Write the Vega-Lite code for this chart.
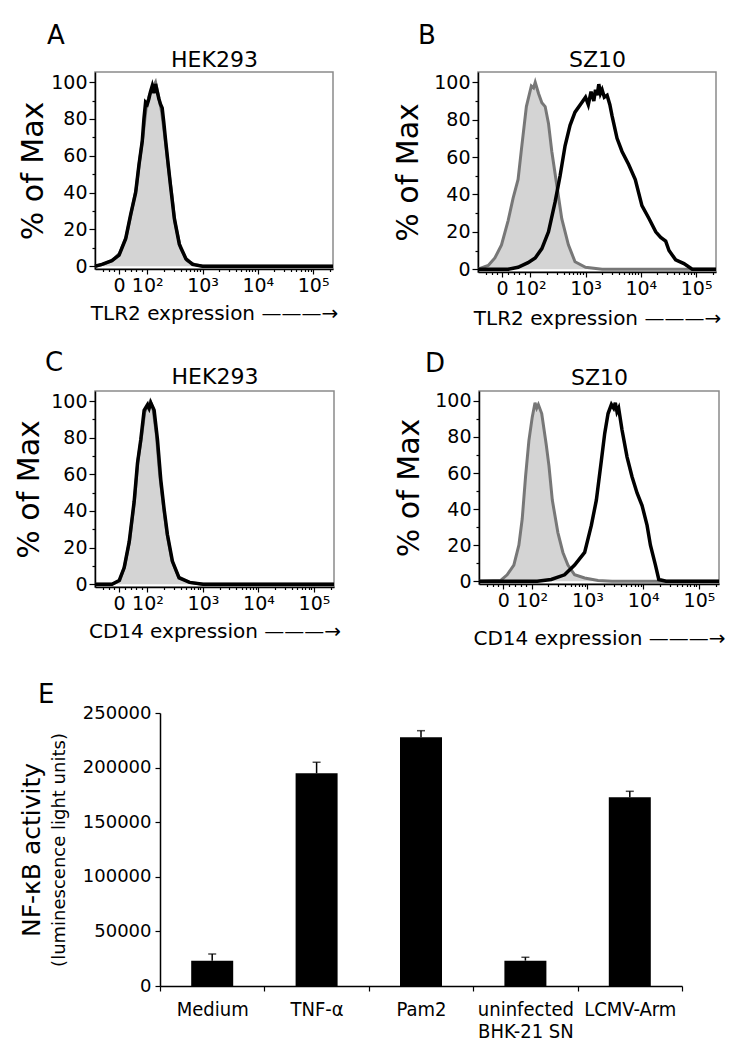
{
  "$schema": "https://vega.github.io/schema/vega-lite/v6.json",
  "padding": {"left": 13, "top": 22, "right": 5, "bottom": 5},
  "background": "white",
  "config": {
    "font": "DejaVu Sans",
    "view": {"stroke": "#8a8a8a", "strokeWidth": 1.5},
    "axis": {"labelFont": "DejaVu Sans", "titleFont": "DejaVu Sans", "titleFontWeight": "normal", "labelColor": "#000", "titleColor": "#000", "domainColor": "#000", "tickColor": "#000", "grid": false, "domainWidth": 1.5, "tickWidth": 1.2},
    "title": {"font": "DejaVu Sans", "fontWeight": "normal", "color": "#000"}
  },
  "datasets": {
    "hist": [
      {"p":"A","s":"ctrl","d":1.055,"v":0},{"p":"A","s":"ctrl","d":1.2,"v":1},{"p":"A","s":"ctrl","d":1.36,"v":3},{"p":"A","s":"ctrl","d":1.5,"v":7},{"p":"A","s":"ctrl","d":1.62,"v":16},{"p":"A","s":"ctrl","d":1.71,"v":29},{"p":"A","s":"ctrl","d":1.8,"v":42},{"p":"A","s":"ctrl","d":1.86,"v":57},{"p":"A","s":"ctrl","d":1.92,"v":70},{"p":"A","s":"ctrl","d":1.98,"v":86},{"p":"A","s":"ctrl","d":2.04,"v":93},{"p":"A","s":"ctrl","d":2.1,"v":97},{"p":"A","s":"ctrl","d":2.15,"v":100},{"p":"A","s":"ctrl","d":2.2,"v":93},{"p":"A","s":"ctrl","d":2.26,"v":84},{"p":"A","s":"ctrl","d":2.32,"v":70},{"p":"A","s":"ctrl","d":2.38,"v":54},{"p":"A","s":"ctrl","d":2.44,"v":40},{"p":"A","s":"ctrl","d":2.5,"v":24},{"p":"A","s":"ctrl","d":2.6,"v":10},{"p":"A","s":"ctrl","d":2.72,"v":3},{"p":"A","s":"ctrl","d":2.85,"v":1},{"p":"A","s":"ctrl","d":3.0,"v":0},{"p":"A","s":"ctrl","d":5.36,"v":0},
      {"p":"A","s":"stain","d":1.055,"v":0},{"p":"A","s":"stain","d":1.18,"v":1},{"p":"A","s":"stain","d":1.36,"v":3},{"p":"A","s":"stain","d":1.49,"v":6},{"p":"A","s":"stain","d":1.61,"v":15},{"p":"A","s":"stain","d":1.7,"v":28},{"p":"A","s":"stain","d":1.79,"v":40},{"p":"A","s":"stain","d":1.85,"v":55},{"p":"A","s":"stain","d":1.91,"v":68},{"p":"A","s":"stain","d":1.94,"v":80},{"p":"A","s":"stain","d":1.97,"v":89},{"p":"A","s":"stain","d":2.0,"v":88},{"p":"A","s":"stain","d":2.03,"v":91},{"p":"A","s":"stain","d":2.06,"v":95},{"p":"A","s":"stain","d":2.09,"v":98},{"p":"A","s":"stain","d":2.12,"v":94},{"p":"A","s":"stain","d":2.15,"v":99},{"p":"A","s":"stain","d":2.18,"v":95},{"p":"A","s":"stain","d":2.21,"v":91},{"p":"A","s":"stain","d":2.24,"v":88},{"p":"A","s":"stain","d":2.27,"v":86},{"p":"A","s":"stain","d":2.3,"v":78},{"p":"A","s":"stain","d":2.33,"v":69},{"p":"A","s":"stain","d":2.38,"v":55},{"p":"A","s":"stain","d":2.42,"v":44},{"p":"A","s":"stain","d":2.49,"v":26},{"p":"A","s":"stain","d":2.58,"v":12},{"p":"A","s":"stain","d":2.7,"v":4},{"p":"A","s":"stain","d":2.82,"v":1},{"p":"A","s":"stain","d":3.0,"v":0},{"p":"A","s":"stain","d":5.36,"v":0},
      {"p":"B","s":"ctrl","d":1.055,"v":0},{"p":"B","s":"ctrl","d":1.24,"v":2},{"p":"B","s":"ctrl","d":1.36,"v":6},{"p":"B","s":"ctrl","d":1.48,"v":13},{"p":"B","s":"ctrl","d":1.6,"v":26},{"p":"B","s":"ctrl","d":1.69,"v":38},{"p":"B","s":"ctrl","d":1.78,"v":48},{"p":"B","s":"ctrl","d":1.84,"v":64},{"p":"B","s":"ctrl","d":1.93,"v":87},{"p":"B","s":"ctrl","d":2.02,"v":98},{"p":"B","s":"ctrl","d":2.06,"v":97},{"p":"B","s":"ctrl","d":2.09,"v":100},{"p":"B","s":"ctrl","d":2.15,"v":94},{"p":"B","s":"ctrl","d":2.21,"v":89},{"p":"B","s":"ctrl","d":2.27,"v":87},{"p":"B","s":"ctrl","d":2.33,"v":78},{"p":"B","s":"ctrl","d":2.39,"v":63},{"p":"B","s":"ctrl","d":2.48,"v":45},{"p":"B","s":"ctrl","d":2.57,"v":27},{"p":"B","s":"ctrl","d":2.69,"v":13},{"p":"B","s":"ctrl","d":2.81,"v":4},{"p":"B","s":"ctrl","d":3.0,"v":1},{"p":"B","s":"ctrl","d":3.3,"v":0},{"p":"B","s":"ctrl","d":5.36,"v":0},
      {"p":"B","s":"stain","d":1.055,"v":0},{"p":"B","s":"stain","d":1.6,"v":0},{"p":"B","s":"stain","d":1.78,"v":1},{"p":"B","s":"stain","d":1.96,"v":3.5},{"p":"B","s":"stain","d":2.09,"v":6},{"p":"B","s":"stain","d":2.21,"v":11},{"p":"B","s":"stain","d":2.33,"v":20},{"p":"B","s":"stain","d":2.45,"v":36},{"p":"B","s":"stain","d":2.54,"v":50},{"p":"B","s":"stain","d":2.63,"v":66},{"p":"B","s":"stain","d":2.72,"v":77},{"p":"B","s":"stain","d":2.81,"v":84},{"p":"B","s":"stain","d":2.93,"v":89},{"p":"B","s":"stain","d":3.0,"v":92},{"p":"B","s":"stain","d":3.05,"v":88},{"p":"B","s":"stain","d":3.1,"v":95},{"p":"B","s":"stain","d":3.15,"v":90},{"p":"B","s":"stain","d":3.18,"v":96},{"p":"B","s":"stain","d":3.21,"v":93},{"p":"B","s":"stain","d":3.24,"v":99},{"p":"B","s":"stain","d":3.27,"v":94},{"p":"B","s":"stain","d":3.3,"v":96},{"p":"B","s":"stain","d":3.34,"v":92},{"p":"B","s":"stain","d":3.39,"v":93},{"p":"B","s":"stain","d":3.44,"v":88},{"p":"B","s":"stain","d":3.48,"v":82},{"p":"B","s":"stain","d":3.57,"v":70},{"p":"B","s":"stain","d":3.66,"v":63},{"p":"B","s":"stain","d":3.78,"v":56},{"p":"B","s":"stain","d":3.9,"v":48},{"p":"B","s":"stain","d":4.02,"v":34},{"p":"B","s":"stain","d":4.15,"v":27},{"p":"B","s":"stain","d":4.27,"v":20},{"p":"B","s":"stain","d":4.36,"v":17},{"p":"B","s":"stain","d":4.45,"v":15},{"p":"B","s":"stain","d":4.51,"v":10},{"p":"B","s":"stain","d":4.63,"v":5},{"p":"B","s":"stain","d":4.78,"v":3},{"p":"B","s":"stain","d":4.93,"v":0},{"p":"B","s":"stain","d":5.36,"v":0},
      {"p":"C","s":"ctrl","d":1.055,"v":0},{"p":"C","s":"ctrl","d":1.36,"v":0},{"p":"C","s":"ctrl","d":1.5,"v":2},{"p":"C","s":"ctrl","d":1.59,"v":10},{"p":"C","s":"ctrl","d":1.68,"v":24},{"p":"C","s":"ctrl","d":1.77,"v":47},{"p":"C","s":"ctrl","d":1.83,"v":68},{"p":"C","s":"ctrl","d":1.89,"v":80},{"p":"C","s":"ctrl","d":1.95,"v":94},{"p":"C","s":"ctrl","d":2.0,"v":97},{"p":"C","s":"ctrl","d":2.05,"v":100},{"p":"C","s":"ctrl","d":2.1,"v":96},{"p":"C","s":"ctrl","d":2.16,"v":82},{"p":"C","s":"ctrl","d":2.22,"v":60},{"p":"C","s":"ctrl","d":2.29,"v":42},{"p":"C","s":"ctrl","d":2.35,"v":28},{"p":"C","s":"ctrl","d":2.44,"v":13},{"p":"C","s":"ctrl","d":2.56,"v":4},{"p":"C","s":"ctrl","d":2.75,"v":1},{"p":"C","s":"ctrl","d":3.0,"v":0},{"p":"C","s":"ctrl","d":5.36,"v":0},
      {"p":"C","s":"stain","d":1.055,"v":0},{"p":"C","s":"stain","d":1.36,"v":0},{"p":"C","s":"stain","d":1.49,"v":2},{"p":"C","s":"stain","d":1.58,"v":9},{"p":"C","s":"stain","d":1.67,"v":23},{"p":"C","s":"stain","d":1.76,"v":45},{"p":"C","s":"stain","d":1.82,"v":66},{"p":"C","s":"stain","d":1.88,"v":79},{"p":"C","s":"stain","d":1.94,"v":95},{"p":"C","s":"stain","d":2.0,"v":98},{"p":"C","s":"stain","d":2.03,"v":96},{"p":"C","s":"stain","d":2.06,"v":99},{"p":"C","s":"stain","d":2.09,"v":97},{"p":"C","s":"stain","d":2.12,"v":95},{"p":"C","s":"stain","d":2.18,"v":79},{"p":"C","s":"stain","d":2.24,"v":57},{"p":"C","s":"stain","d":2.3,"v":41},{"p":"C","s":"stain","d":2.36,"v":27},{"p":"C","s":"stain","d":2.45,"v":12.5},{"p":"C","s":"stain","d":2.57,"v":3.5},{"p":"C","s":"stain","d":2.76,"v":1},{"p":"C","s":"stain","d":3.0,"v":0},{"p":"C","s":"stain","d":5.36,"v":0},
      {"p":"D","s":"ctrl","d":1.055,"v":0},{"p":"D","s":"ctrl","d":1.44,"v":0.4},{"p":"D","s":"ctrl","d":1.56,"v":3.6},{"p":"D","s":"ctrl","d":1.68,"v":9},{"p":"D","s":"ctrl","d":1.77,"v":20},{"p":"D","s":"ctrl","d":1.83,"v":34.5},{"p":"D","s":"ctrl","d":1.89,"v":58},{"p":"D","s":"ctrl","d":1.95,"v":78},{"p":"D","s":"ctrl","d":2.01,"v":91},{"p":"D","s":"ctrl","d":2.06,"v":99},{"p":"D","s":"ctrl","d":2.09,"v":96},{"p":"D","s":"ctrl","d":2.12,"v":98},{"p":"D","s":"ctrl","d":2.18,"v":93},{"p":"D","s":"ctrl","d":2.26,"v":76},{"p":"D","s":"ctrl","d":2.31,"v":64},{"p":"D","s":"ctrl","d":2.37,"v":45},{"p":"D","s":"ctrl","d":2.47,"v":27},{"p":"D","s":"ctrl","d":2.56,"v":16},{"p":"D","s":"ctrl","d":2.65,"v":9},{"p":"D","s":"ctrl","d":2.77,"v":3.6},{"p":"D","s":"ctrl","d":2.95,"v":1.8},{"p":"D","s":"ctrl","d":3.19,"v":0.4},{"p":"D","s":"ctrl","d":3.44,"v":0},{"p":"D","s":"ctrl","d":5.36,"v":0},
      {"p":"D","s":"stain","d":1.055,"v":0},{"p":"D","s":"stain","d":2.1,"v":0},{"p":"D","s":"stain","d":2.35,"v":1},{"p":"D","s":"stain","d":2.59,"v":3.6},{"p":"D","s":"stain","d":2.77,"v":9},{"p":"D","s":"stain","d":2.95,"v":16},{"p":"D","s":"stain","d":3.07,"v":31},{"p":"D","s":"stain","d":3.16,"v":45},{"p":"D","s":"stain","d":3.25,"v":67},{"p":"D","s":"stain","d":3.31,"v":82},{"p":"D","s":"stain","d":3.37,"v":93},{"p":"D","s":"stain","d":3.43,"v":98},{"p":"D","s":"stain","d":3.47,"v":96},{"p":"D","s":"stain","d":3.5,"v":99},{"p":"D","s":"stain","d":3.53,"v":94},{"p":"D","s":"stain","d":3.56,"v":96},{"p":"D","s":"stain","d":3.62,"v":84},{"p":"D","s":"stain","d":3.71,"v":69},{"p":"D","s":"stain","d":3.8,"v":58},{"p":"D","s":"stain","d":3.89,"v":49},{"p":"D","s":"stain","d":3.98,"v":42},{"p":"D","s":"stain","d":4.07,"v":31},{"p":"D","s":"stain","d":4.13,"v":20},{"p":"D","s":"stain","d":4.22,"v":9},{"p":"D","s":"stain","d":4.28,"v":1},{"p":"D","s":"stain","d":4.41,"v":0},{"p":"D","s":"stain","d":5.36,"v":0}
    ],
    "bars": [
      {"c":"Medium","v":23200,"e":29300},
      {"c":"TNF-α","v":194800,"e":204900},
      {"c":"Pam2","v":227700,"e":233800},
      {"c":"uninfected BHK-21 SN","v":23200,"e":26300},
      {"c":"LCMV-Arm","v":172800,"e":178300}
    ]
  },
  "vconcat": [
    {
      "vconcat": [
        {
          "hconcat": [
            {
              "width": 238, "height": 197,
              "title": {"text": "A", "anchor": "start", "frame": "group", "dx": -48, "offset": -1, "fontSize": 26},
              "data": {"name": "hist"},
              "transform": [{"filter": "datum.p === 'A'"}],
              "layer": [
                {"transform": [{"filter": "datum.s === 'ctrl'"}],
                 "mark": {"type": "area", "color": "#d4d4d4", "opacity": 1},
                 "encoding": {
                   "x": {"field": "d", "type": "quantitative", "scale": {"domain": [1.055, 5.36], "nice": false, "zero": false}, "axis": {"orient": "top", "title": "HEK293", "labels": false, "ticks": false, "domain": false, "titleFontSize": 22, "titlePadding": 1}},
                   "y": {"field": "v", "type": "quantitative", "scale": {"domain": [-1.5, 105.5], "nice": false, "zero": false}, "axis": {"title": "% of Max", "values": [0,20,40,60,80,100], "tickSize": 6, "titleFontSize": 30, "labelFontSize": 19, "titlePadding": 2, "labelPadding": 2}}
                 }},
                {"transform": [{"filter": "datum.s === 'ctrl'"}],
                 "mark": {"type": "line", "color": "#777777", "strokeWidth": 3},
                 "encoding": {"x": {"field": "d", "type": "quantitative", "axis": null}, "y": {"field": "v", "type": "quantitative", "axis": {"orient": "left", "title": null, "labels": false, "domain": false, "values": [10,30,50,70,90], "tickSize": 3}}}},
                {"transform": [{"filter": "datum.s === 'stain'"}],
                 "mark": {"type": "line", "color": "#000000", "strokeWidth": 3.5},
                 "encoding": {
                   "x": {"field": "d", "type": "quantitative", "axis": {"title": "TLR2 expression ———→", "values": [1.2,1.3,1.4,1.49,1.6,1.7,1.8,1.9,2,2.301,2.477,2.602,2.699,2.778,2.845,2.903,2.954,3,3.301,3.477,3.602,3.699,3.778,3.845,3.903,3.954,4,4.301,4.477,4.602,4.699,4.778,4.845,4.903,4.954,5,5.301], "labelExpr": "datum.value === 1.49 ? '0' : datum.value === 2 ? '10²' : datum.value === 3 ? '10³' : datum.value === 4 ? '10⁴' : datum.value === 5 ? '10⁵' : ''", "tickSize": {"condition": {"test": "indexof([1.49,2,3,4,5], datum.value) >= 0", "value": 5}, "value": 2.5}, "labelFontSize": 19, "titleFontSize": 20, "titlePadding": 8, "labelOverlap": false, "labelFlush": false}},
                   "y": {"field": "v", "type": "quantitative", "axis": null}
                 }}
              ],
              "resolve": {"axis": {"x": "independent", "y": "independent"}}
            },
            {
              "width": 238, "height": 200,
              "title": {"text": "B", "anchor": "start", "frame": "group", "dx": -60, "offset": -1, "fontSize": 26},
              "data": {"name": "hist"},
              "transform": [{"filter": "datum.p === 'B'"}],
              "layer": [
                {"transform": [{"filter": "datum.s === 'ctrl'"}],
                 "mark": {"type": "area", "color": "#d4d4d4", "opacity": 1},
                 "encoding": {
                   "x": {"field": "d", "type": "quantitative", "scale": {"domain": [1.055, 5.36], "nice": false, "zero": false}, "axis": {"orient": "top", "title": "SZ10", "labels": false, "ticks": false, "domain": false, "titleFontSize": 22, "titlePadding": 1}},
                   "y": {"field": "v", "type": "quantitative", "scale": {"domain": [-1.5, 105.5], "nice": false, "zero": false}, "axis": {"title": "% of Max", "values": [0,20,40,60,80,100], "tickSize": 6, "titleFontSize": 30, "labelFontSize": 19, "titlePadding": 10, "labelPadding": 2}}
                 }},
                {"transform": [{"filter": "datum.s === 'ctrl'"}],
                 "mark": {"type": "line", "color": "#777777", "strokeWidth": 3},
                 "encoding": {"x": {"field": "d", "type": "quantitative", "axis": null}, "y": {"field": "v", "type": "quantitative", "axis": {"orient": "left", "title": null, "labels": false, "domain": false, "values": [10,30,50,70,90], "tickSize": 3}}}},
                {"transform": [{"filter": "datum.s === 'stain'"}],
                 "mark": {"type": "line", "color": "#000000", "strokeWidth": 3.5},
                 "encoding": {
                   "x": {"field": "d", "type": "quantitative", "axis": {"title": "TLR2 expression ———→", "values": [1.2,1.3,1.4,1.49,1.6,1.7,1.8,1.9,2,2.301,2.477,2.602,2.699,2.778,2.845,2.903,2.954,3,3.301,3.477,3.602,3.699,3.778,3.845,3.903,3.954,4,4.301,4.477,4.602,4.699,4.778,4.845,4.903,4.954,5,5.301], "labelExpr": "datum.value === 1.49 ? '0' : datum.value === 2 ? '10²' : datum.value === 3 ? '10³' : datum.value === 4 ? '10⁴' : datum.value === 5 ? '10⁵' : ''", "tickSize": {"condition": {"test": "indexof([1.49,2,3,4,5], datum.value) >= 0", "value": 5}, "value": 2.5}, "labelFontSize": 19, "titleFontSize": 20, "titlePadding": 10, "labelOverlap": false, "labelFlush": false}},
                   "y": {"field": "v", "type": "quantitative", "axis": null}
                 }}
              ],
              "resolve": {"axis": {"x": "independent", "y": "independent"}}
            }
          ],
          "spacing": 51
        },
        {
          "hconcat": [
            {
              "width": 239, "height": 196,
              "title": {"text": "C", "anchor": "start", "frame": "group", "dx": -50, "offset": -11, "fontSize": 26},
              "data": {"name": "hist"},
              "transform": [{"filter": "datum.p === 'C'"}],
              "layer": [
                {"transform": [{"filter": "datum.s === 'ctrl'"}],
                 "mark": {"type": "area", "color": "#d4d4d4", "opacity": 1},
                 "encoding": {
                   "x": {"field": "d", "type": "quantitative", "scale": {"domain": [1.055, 5.36], "nice": false, "zero": false}, "axis": {"orient": "top", "title": "HEK293", "labels": false, "ticks": false, "domain": false, "titleFontSize": 22, "titlePadding": 3}},
                   "y": {"field": "v", "type": "quantitative", "scale": {"domain": [-1.5, 105.5], "nice": false, "zero": false}, "axis": {"title": "% of Max", "values": [0,20,40,60,80,100], "tickSize": 6, "titleFontSize": 30, "labelFontSize": 19, "titlePadding": 6, "labelPadding": 2}}
                 }},
                {"transform": [{"filter": "datum.s === 'ctrl'"}],
                 "mark": {"type": "line", "color": "#777777", "strokeWidth": 3},
                 "encoding": {"x": {"field": "d", "type": "quantitative", "axis": null}, "y": {"field": "v", "type": "quantitative", "axis": {"orient": "left", "title": null, "labels": false, "domain": false, "values": [10,30,50,70,90], "tickSize": 3}}}},
                {"transform": [{"filter": "datum.s === 'stain'"}],
                 "mark": {"type": "line", "color": "#000000", "strokeWidth": 3.5},
                 "encoding": {
                   "x": {"field": "d", "type": "quantitative", "axis": {"title": "CD14 expression ———→", "values": [1.2,1.3,1.4,1.49,1.6,1.7,1.8,1.9,2,2.301,2.477,2.602,2.699,2.778,2.845,2.903,2.954,3,3.301,3.477,3.602,3.699,3.778,3.845,3.903,3.954,4,4.301,4.477,4.602,4.699,4.778,4.845,4.903,4.954,5,5.301], "labelExpr": "datum.value === 1.49 ? '0' : datum.value === 2 ? '10²' : datum.value === 3 ? '10³' : datum.value === 4 ? '10⁴' : datum.value === 5 ? '10⁵' : ''", "tickSize": {"condition": {"test": "indexof([1.49,2,3,4,5], datum.value) >= 0", "value": 5}, "value": 2.5}, "labelFontSize": 19, "titleFontSize": 20, "titlePadding": 8, "labelOverlap": false, "labelFlush": false}},
                   "y": {"field": "v", "type": "quantitative", "axis": null}
                 }}
              ],
              "resolve": {"axis": {"x": "independent", "y": "independent"}}
            },
            {
              "width": 240, "height": 193,
              "title": {"text": "D", "anchor": "start", "frame": "group", "dx": -54, "offset": -11, "fontSize": 26},
              "data": {"name": "hist"},
              "transform": [{"filter": "datum.p === 'D'"}],
              "layer": [
                {"transform": [{"filter": "datum.s === 'ctrl'"}],
                 "mark": {"type": "area", "color": "#d4d4d4", "opacity": 1},
                 "encoding": {
                   "x": {"field": "d", "type": "quantitative", "scale": {"domain": [1.055, 5.36], "nice": false, "zero": false}, "axis": {"orient": "top", "title": "SZ10", "labels": false, "ticks": false, "domain": false, "titleFontSize": 22, "titlePadding": 2}},
                   "y": {"field": "v", "type": "quantitative", "scale": {"domain": [-1.5, 105.5], "nice": false, "zero": false}, "axis": {"title": "% of Max", "values": [0,20,40,60,80,100], "tickSize": 6, "titleFontSize": 30, "labelFontSize": 19, "titlePadding": 10, "labelPadding": 2}}
                 }},
                {"transform": [{"filter": "datum.s === 'ctrl'"}],
                 "mark": {"type": "line", "color": "#777777", "strokeWidth": 3},
                 "encoding": {"x": {"field": "d", "type": "quantitative", "axis": null}, "y": {"field": "v", "type": "quantitative", "axis": {"orient": "left", "title": null, "labels": false, "domain": false, "values": [10,30,50,70,90], "tickSize": 3}}}},
                {"transform": [{"filter": "datum.s === 'stain'"}],
                 "mark": {"type": "line", "color": "#000000", "strokeWidth": 3.5},
                 "encoding": {
                   "x": {"field": "d", "type": "quantitative", "axis": {"title": "CD14 expression ———→", "values": [1.2,1.3,1.4,1.49,1.6,1.7,1.8,1.9,2,2.301,2.477,2.602,2.699,2.778,2.845,2.903,2.954,3,3.301,3.477,3.602,3.699,3.778,3.845,3.903,3.954,4,4.301,4.477,4.602,4.699,4.778,4.845,4.903,4.954,5,5.301], "labelExpr": "datum.value === 1.49 ? '0' : datum.value === 2 ? '10²' : datum.value === 3 ? '10³' : datum.value === 4 ? '10⁴' : datum.value === 5 ? '10⁵' : ''", "tickSize": {"condition": {"test": "indexof([1.49,2,3,4,5], datum.value) >= 0", "value": 5}, "value": 2.5}, "labelFontSize": 19, "titleFontSize": 20, "titlePadding": 18, "labelOverlap": false, "labelFlush": false}},
                   "y": {"field": "v", "type": "quantitative", "axis": null}
                 }}
              ],
              "resolve": {"axis": {"x": "independent", "y": "independent"}}
            }
          ],
          "spacing": 51
        }
      ],
      "spacing": 20
    },
    {
      "hconcat": [
        {
          "width": 1, "height": 1,
          "view": {"stroke": null},
          "data": {"values": [{"z": 0}]},
          "mark": {"type": "point", "opacity": 0},
          "encoding": {}
        },
        {
          "width": 522, "height": 273,
          "view": {"stroke": null},
          "title": {"text": "E", "anchor": "start", "frame": "group", "dx": -122, "offset": -4, "fontSize": 26},
          "data": {"name": "bars"},
          "layer": [
            {"mark": {"type": "bar", "color": "#000000", "size": 42},
             "encoding": {
               "x": {"field": "c", "type": "nominal", "sort": null, "scale": {"paddingInner": 0, "paddingOuter": 0}, "axis": {"title": null, "labelAngle": 0, "tickBand": "extent", "labelFont": "DejaVu Sans Condensed", "labelFontSize": 20, "labelPadding": 8, "tickSize": 5, "labelExpr": "datum.value === 'uninfected BHK-21 SN' ? ['uninfected', 'BHK-21 SN'] : datum.label"}},
               "y": {"field": "v", "type": "quantitative", "scale": {"domain": [0, 250000], "nice": false}, "axis": {"title": "(luminescence light units)", "values": [0, 50000, 100000, 150000, 200000, 250000], "format": "d", "labelFontSize": 18, "titleFontSize": 18, "titlePadding": 14, "tickSize": 5, "labelPadding": 4}}
             }},
            {"mark": {"type": "rule", "color": "#000000", "strokeWidth": 1.5},
             "encoding": {
               "x": {"field": "c", "type": "nominal", "sort": null},
               "y": {"field": "v", "type": "quantitative", "scale": {"domain": [0, 250000], "nice": false}, "axis": {"title": "NF-κB activity", "orient": "left", "labels": false, "ticks": false, "domain": false, "titleFontSize": 25, "titlePadding": 116}},
               "y2": {"field": "e"}
             }},
            {"mark": {"type": "tick", "color": "#000000", "thickness": 1.5, "size": 8},
             "encoding": {
               "x": {"field": "c", "type": "nominal", "sort": null},
               "y": {"field": "e", "type": "quantitative", "scale": {"domain": [0, 250000], "nice": false}, "axis": null}
             }}
          ],
          "resolve": {"axis": {"y": "independent"}}
        }
      ],
      "spacing": -80
    }
  ],
  "spacing": 33
}
